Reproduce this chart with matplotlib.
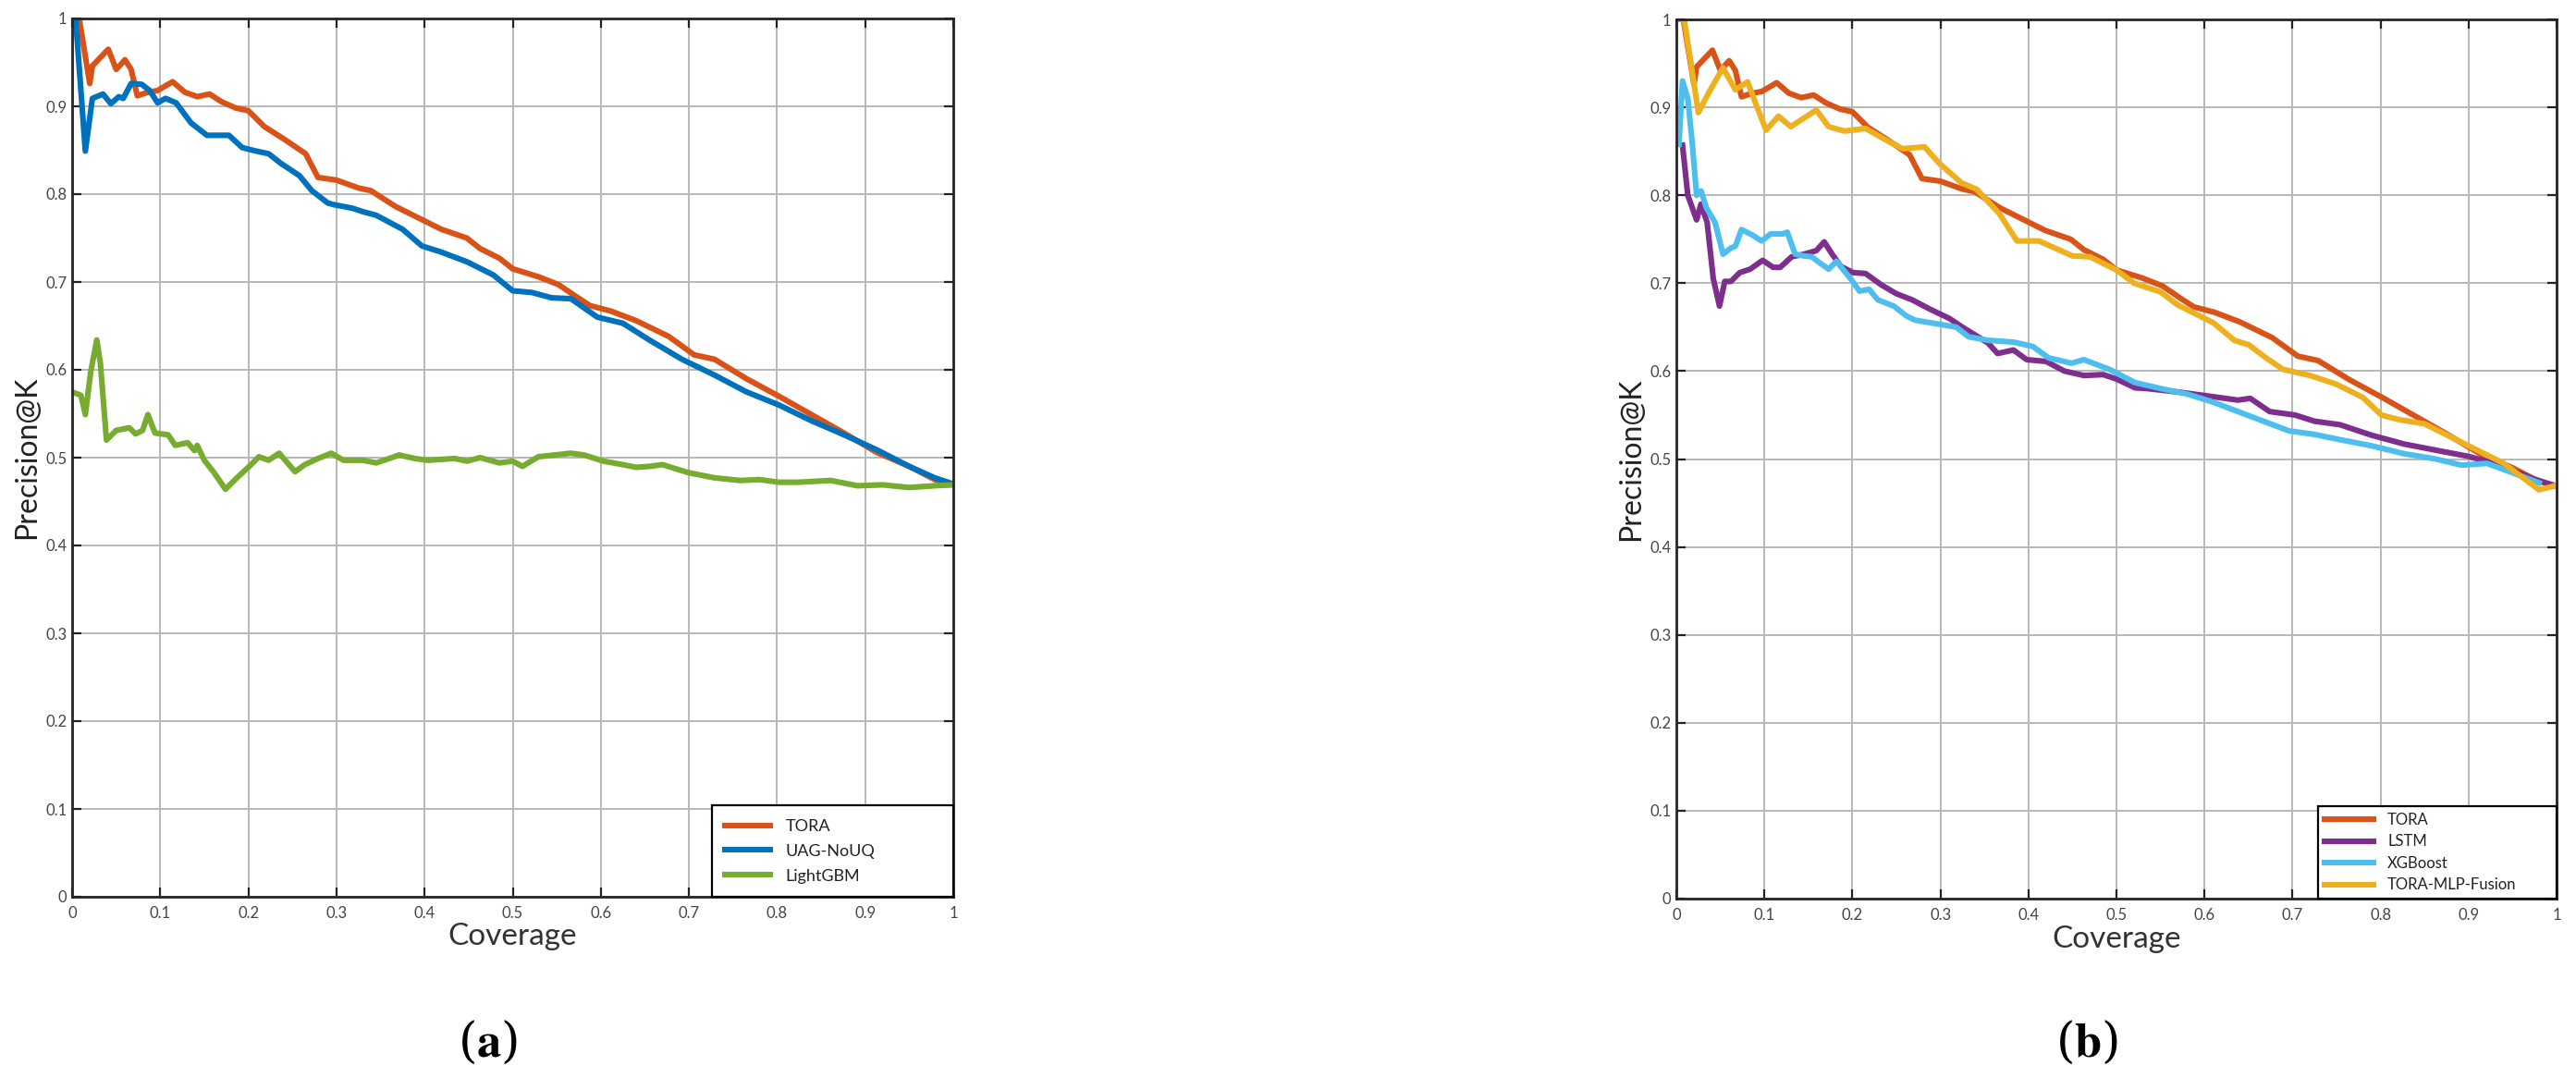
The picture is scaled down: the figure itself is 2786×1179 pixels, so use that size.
import matplotlib
matplotlib.use("Agg")
import matplotlib.pyplot as plt

# ---- data ----
tora_x = [0.0, 0.003, 0.008, 0.02, 0.023, 0.041, 0.05, 0.06, 0.067, 0.074, 0.086, 0.097, 0.114,
          0.128, 0.142, 0.156, 0.17, 0.186, 0.2, 0.218, 0.24, 0.265, 0.279, 0.3, 0.325, 0.339,
          0.367, 0.375, 0.397, 0.419, 0.448, 0.463, 0.485, 0.5, 0.529, 0.552, 0.574, 0.588,
          0.611, 0.64, 0.677, 0.706, 0.729, 0.765, 0.802, 0.839, 0.876, 0.913, 0.95, 0.979, 1.0]
tora_y = [1.0, 1.0, 1.0, 0.926, 0.946, 0.965, 0.942, 0.953, 0.942, 0.912, 0.916, 0.918, 0.928,
          0.916, 0.911, 0.914, 0.905, 0.898, 0.895, 0.877, 0.863, 0.846, 0.819, 0.816, 0.807, 0.804,
          0.786, 0.782, 0.771, 0.76, 0.75, 0.738, 0.727, 0.715, 0.706, 0.697, 0.682, 0.673,
          0.667, 0.656, 0.638, 0.617, 0.612, 0.59, 0.57, 0.549, 0.528, 0.506, 0.49, 0.475, 0.469]

uag_x = [0.0, 0.004, 0.015, 0.023, 0.035, 0.044, 0.053, 0.058, 0.067, 0.079, 0.088, 0.097, 0.106,
         0.118, 0.135, 0.153, 0.178, 0.193, 0.209, 0.223, 0.237, 0.258, 0.272, 0.29, 0.297, 0.318,
         0.33, 0.345, 0.375, 0.397, 0.419, 0.448, 0.478, 0.5, 0.522, 0.544, 0.566, 0.596, 0.625,
         0.655, 0.692, 0.729, 0.765, 0.802, 0.839, 0.876, 0.913, 0.95, 0.979, 1.0]
uag_y = [1.0, 1.0, 0.849, 0.909, 0.914, 0.903, 0.911, 0.909, 0.926, 0.925, 0.918, 0.904, 0.909,
         0.904, 0.881, 0.867, 0.867, 0.853, 0.849, 0.846, 0.835, 0.821, 0.804, 0.79, 0.788, 0.784,
         0.78, 0.776, 0.76, 0.741, 0.734, 0.723, 0.708, 0.69, 0.688, 0.682, 0.681, 0.66, 0.653,
         0.634, 0.612, 0.594, 0.575, 0.56, 0.542, 0.526, 0.509, 0.49, 0.477, 0.47]

lgbm_x = [0.002, 0.01, 0.015, 0.021, 0.028, 0.032, 0.039, 0.05, 0.065, 0.072, 0.08, 0.086, 0.094,
          0.109, 0.117, 0.131, 0.139, 0.142, 0.15, 0.161, 0.174, 0.187, 0.201, 0.212, 0.223,
          0.235, 0.253, 0.264, 0.279, 0.294, 0.308, 0.33, 0.345, 0.36, 0.371, 0.389, 0.404,
          0.434, 0.448, 0.463, 0.485, 0.5, 0.511, 0.529, 0.566, 0.581, 0.603, 0.625, 0.64,
          0.655, 0.67, 0.699, 0.729, 0.758, 0.78, 0.802, 0.824, 0.861, 0.891, 0.92, 0.95, 0.979, 1.0]
lgbm_y = [0.574, 0.571, 0.549, 0.597, 0.634, 0.608, 0.52, 0.531, 0.534, 0.527, 0.531, 0.549, 0.528,
          0.526, 0.514, 0.517, 0.508, 0.514, 0.497, 0.483, 0.464, 0.477, 0.49, 0.501, 0.497,
          0.505, 0.484, 0.492, 0.499, 0.505, 0.497, 0.497, 0.494, 0.499, 0.503, 0.499, 0.497,
          0.499, 0.496, 0.5, 0.494, 0.496, 0.49, 0.501, 0.505, 0.503, 0.496, 0.492, 0.489,
          0.49, 0.492, 0.483, 0.477, 0.474, 0.475, 0.472, 0.472, 0.474, 0.468, 0.469, 0.466, 0.468, 0.469]

lstm_x = [0.007, 0.013, 0.023, 0.028, 0.035, 0.042, 0.049, 0.055, 0.062, 0.072, 0.084, 0.098, 0.11,
          0.118, 0.131, 0.145, 0.159, 0.168, 0.177, 0.187, 0.201, 0.215, 0.233, 0.25, 0.268,
          0.289, 0.31, 0.325, 0.354, 0.365, 0.383, 0.398, 0.42, 0.441, 0.463, 0.485, 0.5,
          0.521, 0.536, 0.572, 0.609, 0.638, 0.652, 0.674, 0.703, 0.725, 0.754, 0.79, 0.827,
          0.863, 0.9, 0.936, 0.972, 0.994]
lstm_y = [0.857, 0.8, 0.772, 0.79, 0.769, 0.705, 0.674, 0.702, 0.702, 0.712, 0.716, 0.726, 0.718,
          0.718, 0.73, 0.733, 0.737, 0.747, 0.733, 0.719, 0.712, 0.711, 0.698, 0.688, 0.681,
          0.67, 0.66, 0.65, 0.632, 0.62, 0.624, 0.613, 0.611, 0.6, 0.595, 0.596, 0.591,
          0.581, 0.58, 0.576, 0.571, 0.567, 0.569, 0.554, 0.55, 0.543, 0.539, 0.527, 0.517,
          0.51, 0.503, 0.493, 0.478, 0.471]

xgb_x = [0.003, 0.007, 0.013, 0.018, 0.023, 0.028, 0.034, 0.044, 0.053, 0.062, 0.067, 0.074, 0.086,
         0.097, 0.107, 0.121, 0.126, 0.135, 0.145, 0.154, 0.163, 0.173, 0.182, 0.198, 0.208,
         0.219, 0.229, 0.247, 0.261, 0.271, 0.318, 0.332, 0.354, 0.383, 0.405, 0.423, 0.449,
         0.463, 0.492, 0.521, 0.551, 0.58, 0.609, 0.638, 0.667, 0.696, 0.725, 0.754, 0.79,
         0.827, 0.863, 0.892, 0.921, 0.951, 0.98]
xgb_y = [0.858, 0.93, 0.91, 0.86, 0.8, 0.805, 0.786, 0.769, 0.733, 0.74, 0.742, 0.761, 0.755,
         0.748, 0.756, 0.756, 0.758, 0.733, 0.731, 0.73, 0.723, 0.716, 0.725, 0.705, 0.691,
         0.693, 0.681, 0.674, 0.663, 0.658, 0.65, 0.639, 0.635, 0.633, 0.628, 0.615, 0.609,
         0.613, 0.602, 0.587, 0.58, 0.574, 0.565, 0.554, 0.543, 0.532, 0.528, 0.522, 0.515,
         0.506, 0.5, 0.493, 0.495, 0.484, 0.473]

fusion_x = [0.002, 0.009, 0.025, 0.037, 0.053, 0.067, 0.081, 0.091, 0.102, 0.116, 0.13, 0.159,
            0.173, 0.191, 0.215, 0.236, 0.257, 0.282, 0.299, 0.324, 0.341, 0.367, 0.387, 0.412,
            0.43, 0.45, 0.47, 0.5, 0.52, 0.55, 0.57, 0.59, 0.61, 0.634, 0.65, 0.67, 0.689,
            0.72, 0.75, 0.78, 0.801, 0.82, 0.85, 0.88, 0.91, 0.94, 0.96, 0.98, 1.0]
fusion_y = [1.0, 1.0, 0.894, 0.917, 0.945, 0.92, 0.929, 0.902, 0.874, 0.89, 0.878, 0.897,
            0.878, 0.873, 0.876, 0.864, 0.853, 0.855, 0.836, 0.814, 0.807, 0.779, 0.748, 0.748,
            0.74, 0.731, 0.73, 0.715, 0.70, 0.69, 0.675, 0.665, 0.655, 0.635, 0.63, 0.615, 0.602,
            0.595, 0.585, 0.57, 0.55, 0.545, 0.54, 0.525, 0.51, 0.495, 0.48, 0.465, 0.47]

ticks = [0, 0.1, 0.2, 0.3, 0.4, 0.5, 0.6, 0.7, 0.8, 0.9, 1]
tick_labels = ["0", "0.1", "0.2", "0.3", "0.4", "0.5", "0.6", "0.7", "0.8", "0.9", "1"]

plt.rcParams['font.family'] = ['Lato', 'DejaVu Sans']
plt.rcParams['mathtext.fontset'] = 'stix'

W, H = 2786, 1179
fig = plt.figure(figsize=(W / 100, H / 100), dpi=100)
ax_a = fig.add_axes([78 / W, (H - 970) / H, 953 / W, 950 / H])
ax_b = fig.add_axes([1813 / W, (H - 972) / H, 952 / W, 951 / H])


def style_axes(ax):
    ax.set_xlim(0, 1)
    ax.set_ylim(0, 1)
    ax.set_xticks(ticks)
    ax.set_yticks(ticks)
    ax.set_xticklabels(tick_labels)
    ax.set_yticklabels(tick_labels)
    ax.grid(True, color='#b8b8b8', linewidth=1.4)
    ax.set_axisbelow(True)
    ax.tick_params(direction='in', top=True, right=True, length=7, width=1.6,
                   labelsize=12, labelcolor='#454545', color='#222222')
    ax.tick_params(axis='x', pad=7)
    ax.tick_params(axis='y', pad=4)
    for sp in ax.spines.values():
        sp.set_linewidth(2.0)
        sp.set_color('#262626')
    ax.set_xlabel("Coverage", fontsize=24, color='#333333')
    ax.set_ylabel("Precision@K", fontsize=23, color='#222222')
    ax.xaxis.set_label_coords(0.5, -0.03)
    ax.yaxis.set_label_coords(-0.036, 0.5)


lw = 4.4
ax_a.plot(tora_x, tora_y, color='#D95319', lw=lw, label='TORA')
ax_a.plot(uag_x, uag_y, color='#0072BD', lw=lw, label='UAG-NoUQ')
ax_a.plot(lgbm_x, lgbm_y, color='#77AC30', lw=lw, label='LightGBM')
style_axes(ax_a)
leg = ax_a.legend(loc='lower left', bbox_to_anchor=(0.726, 0.0, 0.274, 0.113), mode='expand',
                  fontsize=13, frameon=True, fancybox=False, edgecolor='black', framealpha=1,
                  borderaxespad=0, handlelength=2.7, handletextpad=0.9, labelspacing=0.6,
                  borderpad=0.8)
leg.get_frame().set_linewidth(1.6)
for t in leg.get_texts():
    t.set_color('#222222')

ax_b.plot(tora_x, tora_y, color='#D95319', lw=lw, label='TORA')
ax_b.plot(lstm_x, lstm_y, color='#7E2F8E', lw=lw, label='LSTM')
ax_b.plot(xgb_x, xgb_y, color='#4DBEEE', lw=lw, label='XGBoost')
ax_b.plot(fusion_x, fusion_y, color='#EDB120', lw=lw, label='TORA-MLP-Fusion')
style_axes(ax_b)
leg = ax_b.legend(loc='lower left', bbox_to_anchor=(0.729, 0.0, 0.271, 0.115), mode='expand',
                  fontsize=12, frameon=True, fancybox=False, edgecolor='black', framealpha=1,
                  borderaxespad=0, handlelength=3.2, handletextpad=0.9, labelspacing=0.45,
                  borderpad=0.4)
leg.get_frame().set_linewidth(1.6)
for t in leg.get_texts():
    t.set_color('#222222')

fig.text(528 / W, (H - 1128) / H, r'($\mathbf{a}$)', fontsize=38, ha='center', va='center',
         family='DejaVu Serif', math_fontfamily='stix')
fig.text(2257 / W, (H - 1128) / H, r'($\mathbf{b}$)', fontsize=38, ha='center', va='center',
         family='DejaVu Serif', math_fontfamily='stix')

fig.savefig("out.png", dpi=100, facecolor='white')
